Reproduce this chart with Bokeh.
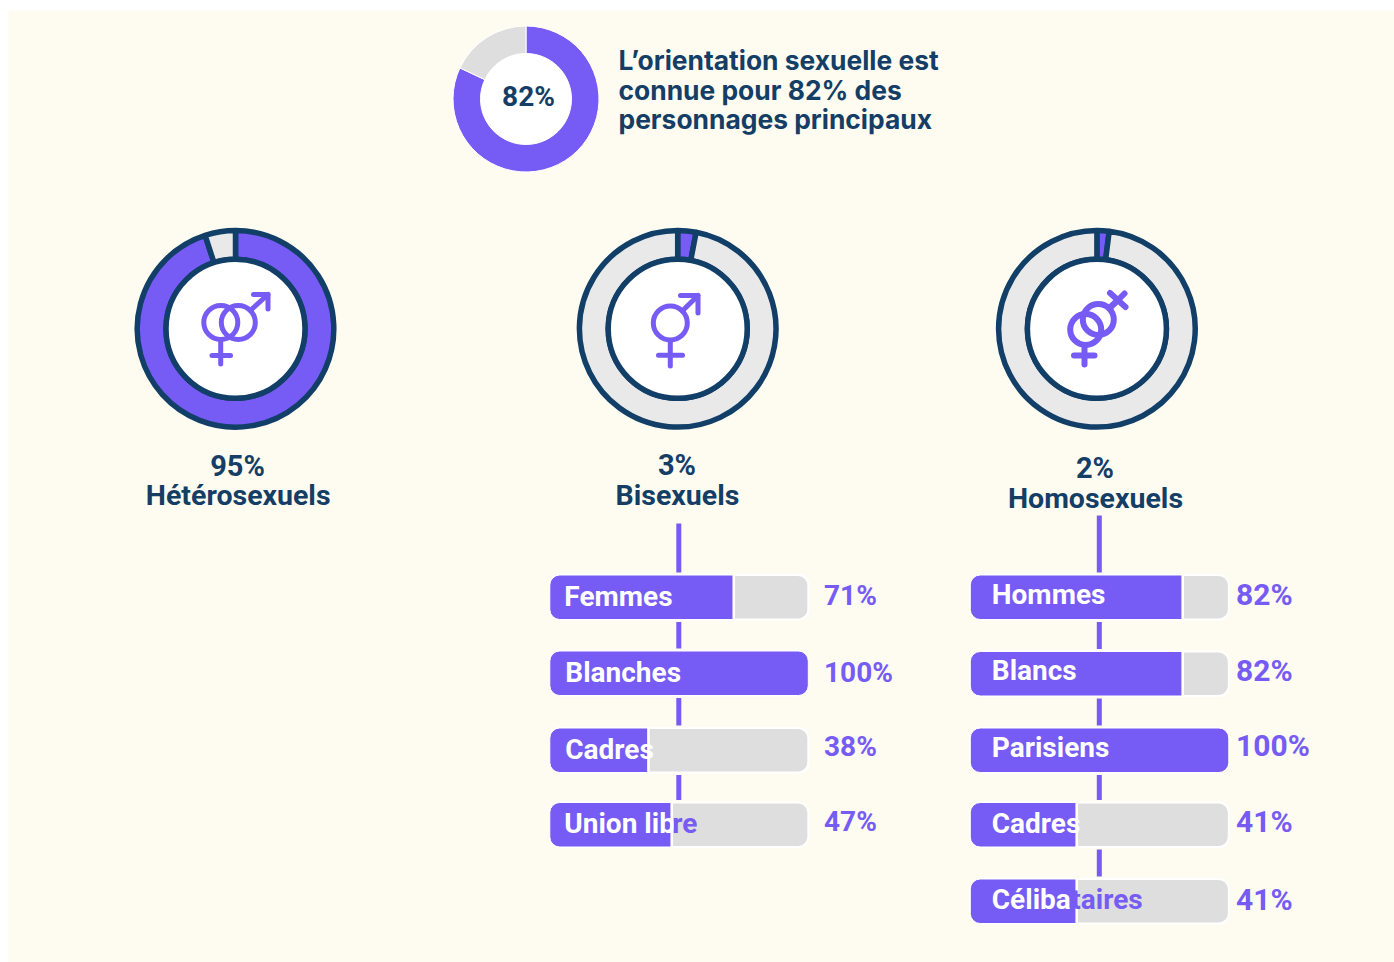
import math
from bokeh.plotting import figure
from bokeh.embed import file_html
from bokeh.resources import INLINE
from bokeh.core.properties import value
from bokeh.models import Range1d

# ---- data ----
known_share = [82, 18]
orientations = ["Hétérosexuels", "Bisexuels", "Homosexuels"]
orientation_pct = [95, 3, 2]
title_lines = ["L’orientation sexuelle est", "connue pour 82% des", "personnages principaux"]
bi_labels = ["Femmes", "Blanches", "Cadres", "Union lib"]
bi_overflow = ["", "", "", "re"]
bi_values = [71, 100, 38, 47]
homo_labels = ["Hommes", "Blancs", "Parisiens", "Cadres", "Céliba"]
homo_overflow = ["", "", "", "", "taires"]
homo_values = [82, 82, 100, 41, 41]

PURPLE = "#765BF5"
NAVY = "#123F68"
TEXT = "#153E66"
GREY = "#DEDEDE"
RING = "#E9E9E9"
CREAM = "#FEFCF0"
TITLE_FONT = "Inter"
BAR_FONT = "Roboto"

p = figure(width=1394, height=962, output_backend="svg", toolbar_location=None,
           x_range=Range1d(0, 1394), y_range=Range1d(962, 0), min_border=0)
p.axis.visible = False
p.grid.visible = False
p.outline_line_color = None
p.background_fill_color = "white"
p.border_fill_color = "white"
p.quad(left=[8], right=[1394], top=[10], bottom=[962], fill_color=CREAM, line_color=None)


def ang(pct):
    return math.pi / 2 - pct / 100 * 2 * math.pi


def txt(x, y, s, size, color, font, bold=False, align="left"):
    p.text(x=[x], y=[y], text=[s], text_font=value(font), text_font_size=value(f"{size}px"),
           text_color=color, text_align=align, text_baseline="middle",
           text_font_style="bold" if bold else "normal")


# ---- top donut ----
TX, TY = 525.5, 98.5
p.circle(x=[TX], y=[TY], radius=73, fill_color="white", line_color=None)
p.annular_wedge(x=[TX], y=[TY], inner_radius=45.5, outer_radius=73, start_angle=[ang(0)],
                end_angle=[ang(known_share[0])], direction="clock", fill_color=PURPLE,
                line_color="white", line_width=1)
p.annular_wedge(x=[TX], y=[TY], inner_radius=45.5, outer_radius=73, start_angle=[ang(known_share[0])],
                end_angle=[ang(100)], direction="clock", fill_color=GREY,
                line_color="white", line_width=1)
txt(528, 95.5, f"{known_share[0]}%", 28, TEXT, BAR_FONT, bold=True, align="center")
for line, y in zip(title_lines, [59, 89, 118]):
    txt(618, y, line, 26.4, TEXT, TITLE_FONT, bold=True)

# ---- orientation donuts ----
centres = [235, 677.2, 1096.4]
pct_y = [465.5, 464.5, 467]
name_y = [495, 495, 498]
name_x = [237.7, 677, 1095]
pct_x = [237, 676.5, 1094.5]
for cx, pct, name, py, ny, nx, px in zip(centres, orientation_pct, orientations, pct_y, name_y, name_x, pct_x):
    cy = 328.3
    p.annular_wedge(x=[cx], y=[cy], inner_radius=69.5, outer_radius=98.3, start_angle=[ang(0)],
                    end_angle=[ang(pct)], direction="clock", fill_color=PURPLE,
                    line_color=NAVY, line_width=5.5)
    p.annular_wedge(x=[cx], y=[cy], inner_radius=69.5, outer_radius=98.3, start_angle=[ang(pct)],
                    end_angle=[ang(100)], direction="clock", fill_color=RING,
                    line_color=NAVY, line_width=5.5)
    p.circle(x=[cx], y=[cy], radius=69.5, fill_color="white", line_color=NAVY, line_width=5.5)
    txt(px, py, f"{pct}%", 29, TEXT, BAR_FONT, bold=True, align="center")
    txt(nx, ny, name, 28.5, TEXT, BAR_FONT, bold=True, align="center")


# ---- symbols ----
def ring(x, y, r, w=5):
    p.circle(x=[x], y=[y], radius=r, fill_color=None, line_color=PURPLE, line_width=w)


def stroke(xs, ys, w=5):
    p.line(x=xs, y=ys, line_color=PURPLE, line_width=w, line_cap="round", line_join="round")


# hetero
ring(220.3, 322, 17); ring(237.8, 322, 17)
stroke([220.2, 220.2], [340, 363.5]); stroke([211.5, 230], [355, 355])
stroke([249.8, 267.5], [310, 294]); stroke([253, 267.5, 267.5], [294, 294, 308.5])
# bi
ring(669.8, 322.5, 17)
stroke([669.8, 669.8], [340, 365.5]); stroke([658, 682], [354.7, 354.7])
stroke([681.8, 697.5], [310.5, 295]); stroke([680, 697.5, 697.5], [295, 295, 312.5])
# homo
ring(1085.2, 329, 15.5, 6); ring(1097.8, 319, 15.5, 6)
stroke([1084, 1084], [346, 364], 6); stroke([1073.5, 1094], [355, 355], 6)
stroke([1108.8, 1117.5], [307.5, 299.5], 6)
stroke([1109.5, 1125], [292.5, 306.5], 6); stroke([1124, 1111], [293, 306], 6)


# ---- bars ----
def column(labels, overflow, values, x0, width, tops, pct_x, pct_size, pct_mid, label_mid, nudge, line_x, line_top):
    h = 44.5
    starts = [line_top] + [t + h + 2.5 for t in tops[:-1]]
    for s, e in zip(starts, tops):
        p.line(x=[line_x, line_x], y=[s, e - 2.5], line_color=PURPLE, line_width=5)
    for lab, extra, v, t, m, lm, n in zip(labels, overflow, values, tops, pct_mid, label_mid, nudge):
        sx = x0 + v / 100 * width
        p.quad(left=[x0], right=[x0 + width], top=[t], bottom=[t + h], fill_color=GREY,
               line_color="white", line_width=2, border_radius=10)
        if v == 100:
            p.quad(left=[x0], right=[sx], top=[t], bottom=[t + h], fill_color=PURPLE,
                   line_color="white", line_width=1, border_radius=10)
        else:
            p.quad(left=[x0], right=[sx], top=[t], bottom=[t + h], fill_color=PURPLE,
                   line_color="white", line_width=1, border_radius=(10, 0, 0, 10))
            p.segment(x0=[sx + 0.5], x1=[sx + 0.5], y0=[t], y1=[t + h], line_color="white", line_width=2.5)
        lx = x0 + (21.5 if labels[0] == "Hommes" else (14.5 if lab[0] in "FU" else 15.5))
        txt(lx, lm, lab, 28, "white", BAR_FONT, bold=True)
        if extra:
            txt(sx + n, lm, extra, 28, PURPLE, BAR_FONT, bold=True)
        txt(pct_x, m, f"{v}%", pct_size, PURPLE, BAR_FONT, bold=True)


column(bi_labels, bi_overflow, bi_values, 549.3, 258.5, [574.5, 650.5, 727.5, 802], 823.5, 28,
       [595, 672, 746, 821], [596, 672, 749, 823], [0, 0, 0, 1], 678.3, 523)
column(homo_labels, homo_overflow, homo_values, 969.8, 258.5, [574.5, 651, 727.5, 802, 878.5], 1235.5, 30,
       [594, 670, 745, 821, 899], [594, 670, 747, 823, 899], [0, 0, 0, 0, -5], 1098.8, 515)

open("out.html", "w").write(file_html(p, INLINE))
